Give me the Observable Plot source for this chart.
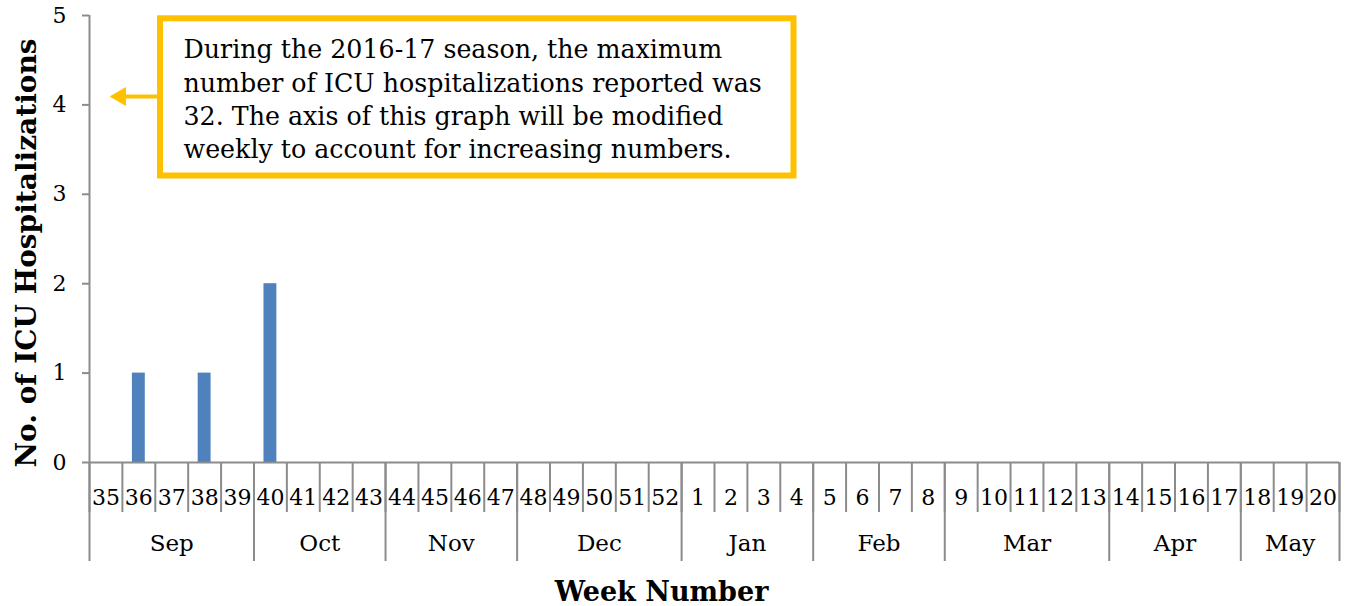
<!DOCTYPE html>
<html>
<head>
<meta charset="utf-8">
<script src="https://cdn.jsdelivr.net/npm/d3@7"></script>
<script src="https://cdn.jsdelivr.net/npm/@observablehq/plot@0.6"></script>
<style>
  html, body { margin: 0; padding: 0; background: #fff; }
  #chart svg { display: block; }
</style>
</head>
<body>
<div id="chart"></div>
<script>
// ---- data ----
const weeks = ["35","36","37","38","39","40","41","42","43","44","45","46","47","48","49","50","51","52",
               "1","2","3","4","5","6","7","8","9","10","11","12","13","14","15","16","17","18","19","20"];
const counts = [0,1,0,1,0,2,0,0,0,0,0,0,0,0,0,0,0,0,0,0,0,0,0,0,0,0,0,0,0,0,0,0,0,0,0,0,0,0];
const months = ["Sep","Oct","Nov","Dec","Jan","Feb","Mar","Apr","May"];
const monthWeekCounts = [5,4,4,5,4,4,5,4,3];
const yTicks = [0,1,2,3,4,5];
const annotationText = "During the 2016-17 season, the maximum\nnumber of ICU hospitalizations reported was\n32. The axis of this graph will be modified\nweekly to account for increasing numbers.";
const yTitle = "No. of ICU Hospitalizations";
const xTitle = "Week Number";

// ---- layout ----
const W = 1351, H = 606;
const mL = 89, mR = 12, mT = 15, mB = 144;
const xUnit = (W - mL - mR) / weeks.length;   // px per week
const yUnit = (H - mT - mB) / 5;              // px per count
const FONT = "'DejaVu Serif', 'Liberation Serif', serif";
const GRAY = "#8c8c8c";
const BAR = "#4f81bd";
const GOLD = "#ffc000";

const data = weeks.map((w, i) => ({week: w, idx: i, count: counts[i]}));
let s = 0;
const monthData = months.map((m, i) => {
  const start = s; s += monthWeekCounts[i];
  return {month: m, start, end: s};
});
const monthBounds = [0, ...monthData.map(d => d.end)];

const chart = Plot.plot({
  width: W, height: H,
  marginLeft: mL, marginRight: mR, marginTop: mT, marginBottom: mB,
  style: {fontFamily: FONT, fontSize: "20px", color: "#000", background: "#fff"},
  x: {domain: [0, weeks.length], axis: null},
  y: {domain: [0, 5], axis: null},
  marks: [
    // bars
    Plot.rectY(data.filter(d => d.count > 0), {
      x1: d => d.idx, x2: d => d.idx + 1, y: "count",
      insetLeft: 10, insetRight: 10, fill: BAR
    }),
    // y axis
    Plot.axisY(yTicks, {tickSize: 7, tickPadding: 16, tickFormat: "d", stroke: GRAY, strokeWidth: 2, fill: "#000", fontSize: 22, label: null}),
    Plot.ruleX([0], {y1: 0, y2: 5, stroke: GRAY, strokeWidth: 2}),
    // x axis line
    Plot.ruleY([0], {stroke: GRAY, strokeWidth: 2}),
    // week dividers
    Plot.ruleX(d3.range(weeks.length + 1), {y1: 0, y2: -50 / yUnit, stroke: GRAY, strokeWidth: 2}),
    // month dividers
    Plot.ruleX(monthBounds, {y1: 0, y2: -99 / yUnit, stroke: GRAY, strokeWidth: 2}),
    // week labels
    Plot.text(data, {x: d => d.idx + 0.5, y: () => 0, text: "week", dy: 35, fontSize: 22, fill: "#000"}),
    // month labels
    Plot.text(monthData, {x: d => (d.start + d.end) / 2, y: () => 0, text: "month", dy: 81, fontSize: 23, fill: "#000"}),
    // axis titles
    Plot.text([yTitle], {frameAnchor: "left", textAnchor: "middle", lineAnchor: "middle", dx: -62, dy: 14, rotate: -90, fontWeight: "bold", fontSize: 28, fill: "#000"}),
    Plot.text([xTitle], {frameAnchor: "bottom", textAnchor: "middle", lineAnchor: "middle", dx: -53, dy: 130, fontWeight: "bold", fontSize: 27, fill: "#000"}),
    // annotation box
    Plot.rect([0], {
      x1: (160 - mL) / xUnit, x2: (793.5 - mL) / xUnit,
      y1: (H - mB - 175.5) / yUnit, y2: (H - mB - 18.3) / yUnit,
      fill: "#fff", stroke: GOLD, strokeWidth: 6
    }),
    Plot.text([annotationText], {
      x: (183 - mL) / xUnit, y: (H - mB - 97) / yUnit,
      textAnchor: "start", lineAnchor: "middle", lineHeight: 1.32,
      fontSize: 25.3, fill: "#000"
    }),
    // arrow
    Plot.ruleY([(H - mB - 96) / yUnit], {x1: (125 - mL) / xUnit, x2: (157 - mL) / xUnit, stroke: GOLD, strokeWidth: 4}),
    Plot.dot([0], {x: (120 - mL) / xUnit, y: (H - mB - 96) / yUnit, symbol: "triangle", rotate: -90, r: 7, fill: GOLD, stroke: "none"})
  ]
});
document.getElementById("chart").appendChild(chart);
</script>
</body>
</html>
